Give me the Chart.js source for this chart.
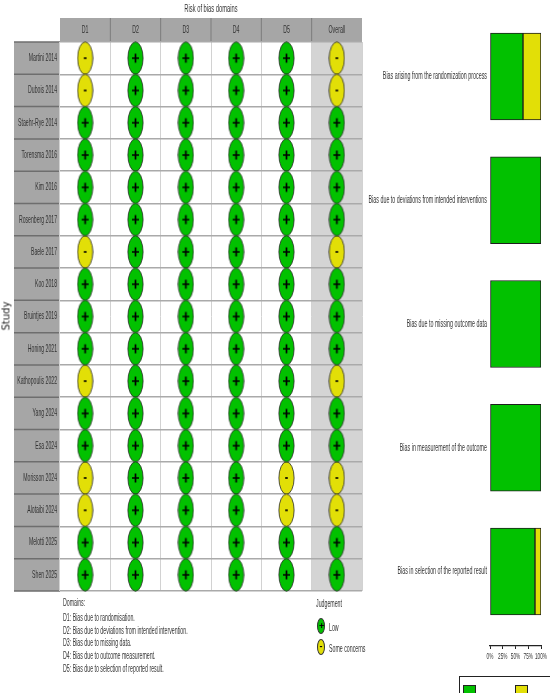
<!DOCTYPE html>
<html>
<head>
<meta charset="utf-8">
<script src="https://cdn.jsdelivr.net/npm/chart.js@4.4.1/dist/chart.umd.min.js"></script>
<style>
  body { margin: 0; background: #fff; }
  #page { position: relative; width: 550px; height: 693px; overflow: hidden; background: #fff; }
  canvas { position: absolute; top: 0; }
  .txt { position: absolute; white-space: nowrap; color: #333; font-size: 10.5px; line-height: 12px;
         font-family: "Liberation Sans Narrow", "Liberation Sans", sans-serif; }
  .sq { display: inline-block; transform: scaleX(0.5); transform-origin: left center; }
  .dot { position: absolute; width: 8px; height: 16px; border-radius: 50%; border: 0.8px solid #333; box-sizing: border-box; }
  .box { position: absolute; }
</style>
</head>
<body>
<div id="page">
  <canvas id="rob" width="370" height="693" style="left:0"></canvas>
  <canvas id="summary" width="195" height="693" style="left:355px"></canvas>

  <div class="txt" style="left:211px; top:2px; transform: translateX(-50%) scaleX(0.55);">Risk of bias domains</div>
  <div class="txt" style="left:-8px; top:310px; font-family:'DejaVu Sans'; font-size:10px; color:#222; transform: rotate(-90deg);">Study</div>

  <div class="txt" style="left:63px; top:596px"><span class="sq">Domains:</span></div>
  <div class="txt" style="left:63px; top:611px"><span class="sq">D1: Bias due to randomisation.</span></div>
  <div class="txt" style="left:63px; top:624px"><span class="sq">D2: Bias due to deviations from intended intervention.</span></div>
  <div class="txt" style="left:63px; top:636px"><span class="sq">D3: Bias due to missing data.</span></div>
  <div class="txt" style="left:63px; top:649px"><span class="sq">D4: Bias due to outcome measurement.</span></div>
  <div class="txt" style="left:63px; top:662px"><span class="sq">D5: Bias due to selection of reported result.</span></div>

  <div class="txt" style="left:316px; top:597px"><span class="sq">Judgement</span></div>
  <div class="dot" style="left:317px; top:618px; background:#02C100"></div>
  <div class="txt" style="left:319px; top:620px; font-size:9px; font-weight:bold; color:#000">+</div>
  <div class="txt" style="left:329px; top:621px"><span class="sq">Low</span></div>
  <div class="dot" style="left:317px; top:639px; background:#E2DF07"></div>
  <div class="txt" style="left:319.5px; top:640px; font-size:9px; font-weight:bold; color:#000">-</div>
  <div class="txt" style="left:329px; top:642px"><span class="sq">Some concerns</span></div>

  <div class="box" style="left:459px; top:676px; width:91px; height:1.2px; background:#222"></div>
  <div class="box" style="left:459px; top:676px; width:1.2px; height:20px; background:#222"></div>
  <div class="box" style="left:463px; top:685px; width:11px; height:10px; background:#02C100; border:1px solid #222"></div>
  <div class="box" style="left:515px; top:685px; width:11px; height:10px; background:#E2DF07; border:1px solid #222"></div>
</div>

<script>
// studies and domains
const studies = ['Martini 2014', 'Dubois 2014', 'Staehr-Rye 2014', 'Torensma 2016', 'Kim 2016',
  'Rosenberg 2017', 'Baele 2017', 'Koo 2018', 'Bruintjes 2019', 'Honing 2021', 'Kathopoulis 2022',
  'Yang 2024', 'Esa 2024', 'Morisson 2024', 'Alotaibi 2024', 'Melotti 2025', 'Shen 2025'];
const domains = ['D1', 'D2', 'D3', 'D4', 'D5', 'Overall'];

// judgements per domain, L = low, S = some concerns
const d1 =      ['S','S','L','L','L','L','S','L','L','L','S','L','L','S','S','L','L'];
const d2 =      ['L','L','L','L','L','L','L','L','L','L','L','L','L','L','L','L','L'];
const d3 =      ['L','L','L','L','L','L','L','L','L','L','L','L','L','L','L','L','L'];
const d4 =      ['L','L','L','L','L','L','L','L','L','L','L','L','L','L','L','L','L'];
const d5 =      ['L','L','L','L','L','L','L','L','L','L','L','L','L','S','S','L','L'];
const overall = ['S','S','L','L','L','L','S','L','L','L','S','L','L','S','S','L','L'];

// summary plot
const summaryLabels = ['Bias arising from the randomization process',
  'Bias due to deviations from intended interventions',
  'Bias due to missing outcome data',
  'Bias in measurement of the outcome',
  'Bias in selection of the reported result'];
const lowPct =  [64.7, 100, 100, 100, 88.2];
const somePct = [35.3, 0, 0, 0, 11.8];
const pctTicks = ['0%', '25%', '50%', '75%', '100%'];

const GREEN = '#02C100';
const YELLOW = '#E2DF07';
const FONT = '"Liberation Sans Narrow", "Liberation Sans", sans-serif';

function sqText(ctx, text, x, y, align, size, sq) {
    ctx.save();
    ctx.font = size + 'px ' + FONT;
    ctx.fillStyle = '#333';
    ctx.textBaseline = 'middle';
    ctx.textAlign = align;
    ctx.translate(x, y);
    ctx.scale(sq, 1);
    ctx.fillText(text, 0, 0);
    ctx.restore();
}

// ellipse marker with a + or - sign
function makeMarker(color, sign) {
    const c = document.createElement('canvas');
    c.width = 17; c.height = 34;
    const g = c.getContext('2d');
    g.beginPath();
    g.ellipse(8.5, 17, 7.6, 16.2, 0, 0, Math.PI * 2);
    g.fillStyle = color;
    g.fill();
    g.lineWidth = 0.8;
    g.strokeStyle = '#2a2a2a';
    g.stroke();
    g.strokeStyle = '#000';
    g.lineWidth = 1.7;
    g.beginPath();
    if (sign === '+') {
        g.moveTo(5, 17); g.lineTo(12, 17);
        g.moveTo(8.5, 12.5); g.lineTo(8.5, 21.5);
    } else {
        g.moveTo(7.2, 17); g.lineTo(9.8, 17);
    }
    g.stroke();
    return c;
}

const columns = [d1, d2, d3, d4, d5, overall];
const lowPoints = [];
const somePoints = [];
columns.forEach((col, i) => {
    col.forEach((j, k) => {
        const p = { x: domains[i], y: studies[k] };
        if (j === 'L') lowPoints.push(p); else somePoints.push(p);
    });
});

const robFrame = {
    id: 'robFrame',
    beforeDraw(chart) {
        const ctx = chart.ctx;
        const a = chart.chartArea;
        const xs = chart.scales.x;
        const colW = a.width / domains.length;
        const rowH = a.height / studies.length;
        ctx.save();
        // overall column
        ctx.fillStyle = '#d4d4d4';
        ctx.fillRect(xs.getPixelForValue(5) - colW / 2, a.top, colW, a.height);
        // header
        ctx.fillStyle = '#a6a6a6';
        ctx.fillRect(a.left, 18, a.width, a.top - 18);
        ctx.strokeStyle = '#7c7c7c';
        ctx.lineWidth = 1;
        for (let i = 1; i < domains.length; i++) {
            ctx.beginPath();
            ctx.moveTo(a.left + i * colW, 18);
            ctx.lineTo(a.left + i * colW, a.top);
            ctx.stroke();
        }
        // study label column
        ctx.fillStyle = '#a6a6a6';
        ctx.fillRect(14, a.top, a.left - 14, a.height);
        ctx.strokeStyle = '#6e6e6e';
        ctx.lineWidth = 1.5;
        for (let i = 0; i <= studies.length; i++) {
            ctx.beginPath();
            ctx.moveTo(14, a.top + i * rowH);
            ctx.lineTo(a.left, a.top + i * rowH);
            ctx.stroke();
        }
        ctx.restore();
    },
    afterDraw(chart) {
        const ctx = chart.ctx;
        const a = chart.chartArea;
        const xs = chart.scales.x;
        const ys = chart.scales.y;
        domains.forEach((d, i) => sqText(ctx, d, xs.getPixelForValue(i), (18 + a.top) / 2, 'center', 10.5, 0.5));
        studies.forEach((s, i) => sqText(ctx, s, a.left - 3, ys.getPixelForValue(i), 'right', 10.5, 0.49));
    }
};

new Chart(document.getElementById('rob'), {
    type: 'scatter',
    data: {
        datasets: [
            { data: lowPoints, pointStyle: makeMarker(GREEN, '+') },
            { data: somePoints, pointStyle: makeMarker(YELLOW, '-') }
        ]
    },
    options: {
        responsive: false,
        animation: false,
        layout: { padding: { left: 14, top: 18, right: 8, bottom: 102 } },
        plugins: { legend: { display: false }, tooltip: { enabled: false } },
        scales: {
            x: {
                type: 'category', labels: domains, position: 'top', offset: true,
                grid: { offset: true, color: '#d2d2d2', lineWidth: 1, drawTicks: false },
                border: { display: false },
                ticks: { display: false },
                afterFit: s => { s.height = 24; }
            },
            y: {
                type: 'category', labels: studies, offset: true,
                grid: { offset: true, color: '#aaaaaa', lineWidth: 1.5, drawTicks: false },
                border: { display: false },
                ticks: { display: false },
                afterFit: s => { s.width = 46; }
            }
        }
    },
    plugins: [robFrame]
});

const summaryLabelsPlugin = {
    id: 'summaryLabels',
    afterDraw(chart) {
        const ctx = chart.ctx;
        const a = chart.chartArea;
        const xs = chart.scales.x;
        const ys = chart.scales.y;
        summaryLabels.forEach((s, i) => sqText(ctx, s, a.left - 3, ys.getPixelForValue(i + 1), 'right', 10.5, 0.51));
        pctTicks.forEach((t, i) => sqText(ctx, t, xs.getPixelForValue(i * 25), a.bottom + 11, 'center', 8.5, 0.55));
    }
};

new Chart(document.getElementById('summary'), {
    type: 'bar',
    data: {
        datasets: [
            { data: lowPct.map((v, i) => ({ x: v || null, y: i + 1 })), backgroundColor: GREEN },
            { data: somePct.map((v, i) => ({ x: v || null, y: i + 1 })), backgroundColor: YELLOW }
        ]
    },
    options: {
        responsive: false,
        animation: false,
        indexAxis: 'y',
        layout: { padding: { left: 0, top: 14, right: 9, bottom: 27 } },
        datasets: { bar: { barThickness: 87, borderWidth: 1, borderColor: '#1e1e1e', borderSkipped: false } },
        plugins: { legend: { display: false }, tooltip: { enabled: false } },
        scales: {
            x: {
                type: 'linear', min: 0, max: 100, stacked: true,
                grid: { drawOnChartArea: false, color: '#222', tickLength: 3, lineWidth: 1 },
                border: { display: true, color: '#222', width: 1.2 },
                ticks: { stepSize: 25, display: false },
                afterFit: s => { s.height = 20; }
            },
            y: {
                type: 'linear', min: 0.495, max: 5.602, reverse: true, stacked: true, offset: false,
                grid: { display: false },
                border: { display: false },
                ticks: { display: false },
                afterBuildTicks: s => { s.ticks = summaryLabels.map((l, i) => ({ value: i + 1 })); },
                afterFit: s => { s.width = 135; }
            }
        }
    },
    plugins: [summaryLabelsPlugin]
});
</script>
</body>
</html>
